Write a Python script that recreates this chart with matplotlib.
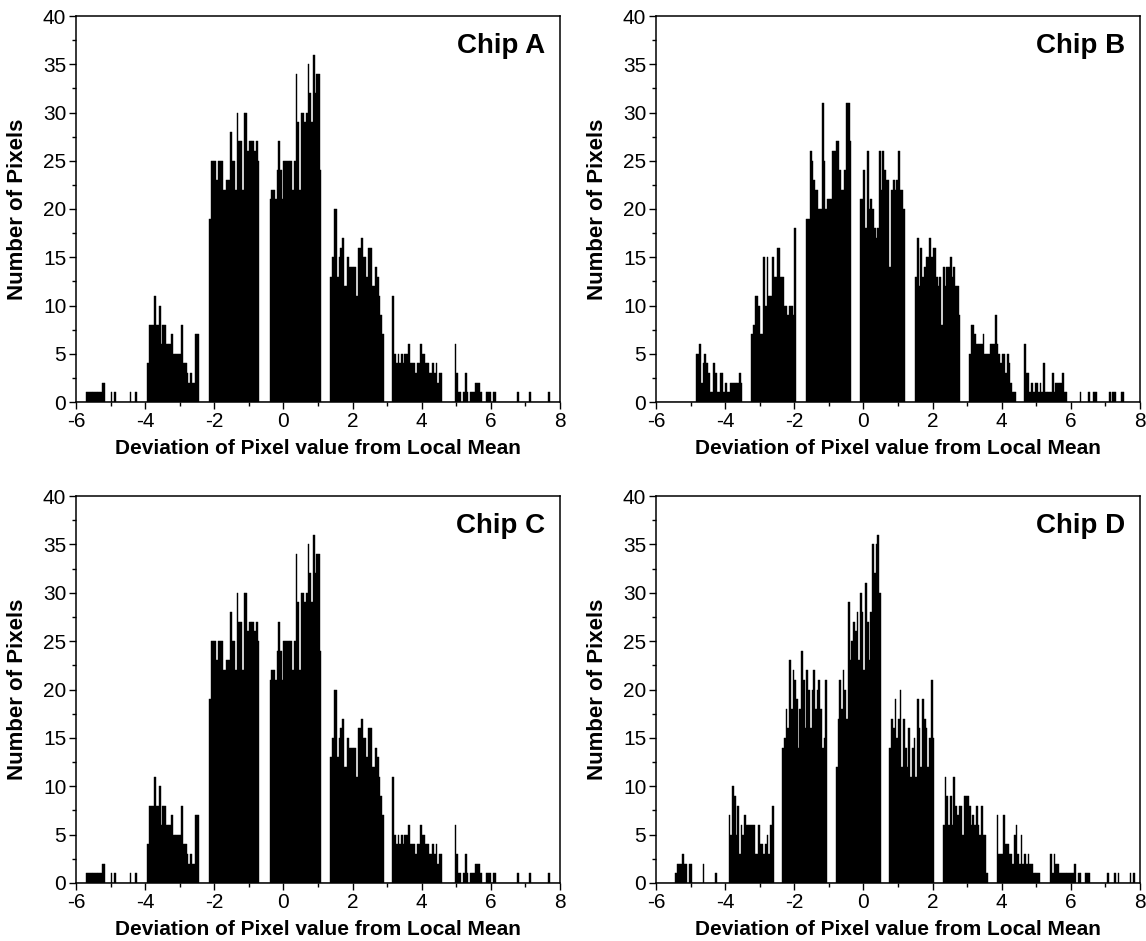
import numpy as np
import matplotlib
matplotlib.use("Agg")
import matplotlib.pyplot as plt
from matplotlib.ticker import MultipleLocator

plt.rcParams['font.family'] = ['Liberation Sans', 'DejaVu Sans']
plt.rcParams['axes.unicode_minus'] = False

# histogram grid: 280 bins of 0.05 from -6 to 8
bin_edges = np.linspace(-6, 8, 281)

# counts per bin, one row of 20 bins = one unit on the x axis
counts_a = [
    0, 0, 0, 0, 0, 0, 1, 1, 1, 1, 1, 1, 1, 1, 1, 2, 2, 0, 0, 0,
    1, 0, 1, 0, 0, 0, 0, 0, 0, 0, 0, 1, 0, 0, 1, 0, 0, 0, 0, 0,
    0, 4, 8, 8, 8, 11, 8, 8, 10, 6, 8, 8, 6, 6, 6, 7, 5, 5, 5, 5,
    5, 8, 4, 4, 3, 2, 3, 2, 2, 7, 7, 0, 0, 0, 0, 0, 0, 19, 25, 25,
    25, 23, 25, 25, 25, 22, 22, 23, 23, 28, 25, 25, 22, 30, 27, 27, 22, 30, 30, 26,
    27, 27, 27, 26, 27, 25, 0, 0, 0, 0, 0, 0, 21, 22, 22, 21, 24, 27, 24, 21,
    25, 25, 25, 25, 25, 22, 25, 34, 29, 22, 30, 30, 29, 30, 35, 32, 29, 36, 32, 34,
    34, 24, 0, 0, 0, 0, 0, 13, 15, 20, 20, 13, 15, 16, 17, 12, 12, 15, 14, 14,
    14, 14, 11, 16, 16, 17, 15, 15, 13, 16, 16, 12, 12, 14, 13, 11, 9, 7, 0, 0,
    0, 0, 0, 11, 5, 4, 5, 4, 5, 4, 5, 5, 6, 4, 4, 4, 3, 4, 4, 6,
    5, 5, 4, 4, 3, 3, 4, 3, 4, 2, 3, 3, 0, 0, 0, 0, 0, 0, 0, 6,
    3, 1, 1, 0, 1, 3, 1, 0, 1, 1, 1, 2, 2, 2, 1, 0, 0, 1, 1, 1,
    0, 1, 1, 0, 0, 0, 0, 0, 0, 0, 0, 0, 0, 0, 0, 1, 0, 0, 0, 0,
    0, 0, 1, 0, 0, 0, 0, 0, 0, 0, 0, 0, 0, 1, 0, 0, 0, 0, 0, 0,
]

counts_b = [
    0, 0, 0, 0, 0, 0, 0, 0, 0, 0, 0, 0, 0, 0, 0, 0, 0, 0, 0, 0,
    0, 0, 0, 5, 5, 6, 2, 4, 5, 4, 3, 1, 1, 4, 3, 1, 1, 3, 3, 1,
    2, 1, 1, 2, 2, 2, 2, 2, 3, 2, 0, 0, 0, 0, 0, 7, 8, 11, 11, 10,
    7, 7, 15, 10, 15, 11, 11, 15, 13, 13, 16, 16, 13, 13, 10, 10, 9, 10, 10, 9,
    18, 0, 0, 0, 0, 0, 0, 19, 19, 26, 25, 23, 22, 22, 20, 20, 31, 25, 20, 21,
    21, 21, 26, 26, 27, 27, 24, 22, 22, 24, 31, 31, 27, 0, 0, 0, 0, 0, 21, 21,
    24, 18, 26, 20, 21, 20, 18, 17, 18, 26, 22, 26, 24, 23, 23, 14, 22, 23, 22, 23,
    26, 22, 22, 20, 0, 0, 0, 0, 0, 0, 13, 17, 12, 16, 13, 14, 15, 15, 17, 15,
    16, 16, 13, 12, 13, 8, 14, 12, 14, 14, 15, 13, 14, 12, 12, 9, 0, 0, 0, 0,
    0, 5, 8, 8, 7, 6, 6, 6, 6, 7, 5, 5, 5, 6, 6, 6, 9, 6, 5, 4,
    5, 5, 3, 5, 4, 2, 1, 1, 0, 0, 0, 0, 0, 6, 3, 3, 1, 2, 1, 2,
    2, 1, 2, 1, 4, 1, 1, 1, 1, 3, 1, 2, 2, 2, 2, 3, 1, 1, 0, 0,
    0, 0, 0, 0, 0, 1, 0, 0, 0, 0, 1, 0, 0, 1, 1, 0, 0, 0, 0, 0,
    0, 0, 1, 0, 1, 1, 0, 0, 0, 1, 1, 0, 0, 0, 0, 0, 0, 0, 0, 0,
]

# Chip C reads the same as Chip A
counts_c = list(counts_a)

counts_d = [
    0, 0, 0, 0, 0, 0, 0, 0, 0, 0, 0, 1, 2, 2, 2, 3, 2, 2, 0, 2,
    2, 0, 0, 0, 0, 0, 0, 2, 0, 0, 0, 0, 0, 0, 1, 0, 0, 0, 0, 0,
    0, 0, 7, 5, 10, 9, 5, 8, 3, 6, 5, 7, 6, 6, 6, 6, 6, 3, 3, 6,
    4, 4, 3, 4, 5, 3, 6, 8, 0, 0, 0, 0, 0, 14, 15, 18, 16, 23, 18, 22,
    21, 19, 14, 18, 24, 21, 16, 22, 20, 16, 20, 22, 18, 20, 21, 18, 14, 15, 21, 0,
    0, 0, 0, 0, 12, 17, 21, 18, 22, 20, 17, 29, 23, 25, 27, 26, 28, 23, 30, 28,
    22, 31, 27, 23, 28, 35, 32, 35, 36, 30, 0, 0, 0, 0, 0, 14, 17, 16, 19, 15,
    17, 20, 12, 17, 14, 12, 16, 11, 14, 15, 11, 19, 16, 12, 19, 17, 16, 12, 15, 21,
    15, 0, 0, 0, 0, 0, 6, 11, 9, 6, 9, 6, 11, 8, 7, 8, 8, 5, 9, 9,
    9, 8, 6, 7, 6, 8, 6, 5, 8, 5, 5, 1, 0, 0, 0, 0, 0, 7, 3, 3,
    3, 7, 4, 4, 3, 3, 2, 5, 6, 3, 2, 5, 2, 3, 2, 3, 2, 2, 1, 1,
    1, 1, 0, 0, 0, 0, 0, 0, 3, 1, 3, 2, 2, 1, 1, 1, 1, 1, 1, 1,
    1, 1, 2, 0, 1, 1, 0, 0, 1, 1, 1, 0, 0, 0, 0, 0, 0, 0, 0, 0,
    0, 1, 0, 0, 0, 1, 0, 1, 0, 0, 0, 0, 0, 0, 1, 0, 1, 0, 0, 0,
]

chip_names = ['Chip A', 'Chip B', 'Chip C', 'Chip D']
all_counts = [counts_a, counts_b, counts_c, counts_d]

W, H = 1146, 941
fig = plt.figure(figsize=(W / 100, H / 100), dpi=100)

# axes boxes in pixels: left, right, top, bottom
boxes = [
    (76, 560, 16, 402),
    (656, 1140, 16, 402),
    (76, 560, 496, 883),
    (656, 1140, 496, 883),
]

for name, counts, (l, r, t, b) in zip(chip_names, all_counts, boxes):
    ax = fig.add_axes([l / W, (H - b) / H, (r - l) / W, (b - t) / H])
    ax.bar(bin_edges[:-1], counts, width=np.diff(bin_edges), align='edge',
           color='black', edgecolor='black', linewidth=0.3)
    ax.set_xlim(-6, 8)
    ax.set_ylim(0, 40)
    ax.xaxis.set_major_locator(MultipleLocator(2))
    ax.xaxis.set_minor_locator(MultipleLocator(1))
    ax.yaxis.set_major_locator(MultipleLocator(5))
    ax.yaxis.set_minor_locator(MultipleLocator(2.5))
    ax.tick_params(which='both', direction='out', top=False, right=False,
                   labelsize=15, width=1.0, pad=2)
    ax.tick_params(which='major', length=5)
    ax.tick_params(which='minor', length=3)
    for s in ax.spines.values():
        s.set_linewidth(1.1)
    ax.set_xlabel('Deviation of Pixel value from Local Mean', fontsize=15,
                  fontweight='bold')
    ax.set_ylabel('Number of Pixels', fontsize=16, fontweight='bold')
    ax.xaxis.set_label_coords(0.5, -0.095)
    ax.yaxis.set_label_coords(-0.1, 0.5)
    ax.text(0.969, 0.956, name, transform=ax.transAxes, ha='right', va='top',
            fontsize=20, fontweight='bold')

fig.savefig('out.png', dpi=100)
